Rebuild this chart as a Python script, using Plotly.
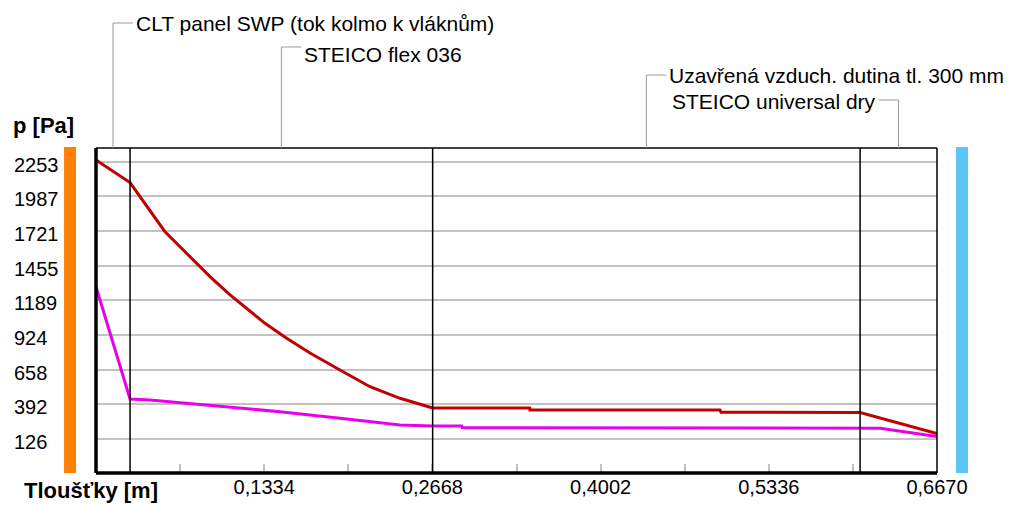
import plotly.graph_objects as go

# red line (upper pressure curve)
red_x = [0.0, 0.027, 0.0547, 0.0904, 0.1063, 0.134, 0.1512, 0.1697, 0.1935,
         0.2173, 0.2411, 0.267, 0.344, 0.3442, 0.4949, 0.4957, 0.606, 0.667]
red_p = [2266, 2093, 1716, 1371, 1232, 1013, 898, 786, 655,
         527, 438, 364, 364, 348, 348, 331, 329, 168]

# magenta line (lower pressure curve)
mag_x = [0.0, 0.027, 0.0428, 0.146, 0.1935, 0.2411, 0.267, 0.29, 0.2905,
         0.606, 0.622, 0.667]
mag_p = [1294, 433, 425, 335, 285, 233, 226, 226, 213,
         208, 208, 144]

# layer boundaries and names
layer_edges = [0.0, 0.027, 0.267, 0.606, 0.667]
layer_names = [
    "CLT panel SWP (tok kolmo k vláknům)",
    "STEICO flex 036",
    "Uzavřená vzduch. dutina tl. 300 mm",
    "STEICO universal dry",
]

y_ticks = [126, 392, 658, 924, 1189, 1455, 1721, 1987, 2253]
x_ticks = [0.0667, 0.1334, 0.2001, 0.2668, 0.3335, 0.4002, 0.4669, 0.5336, 0.6003, 0.667]
x_tick_text = ["", "0,1334", "", "0,2668", "", "0,4002", "", "0,5336", "", "0,6670"]

FONT = "Liberation Sans, Arial, sans-serif"
GRID = "#c2c2c2"
LEADER = "#9a9a9a"

fig = go.Figure()
fig.add_trace(go.Scatter(x=mag_x, y=mag_p, mode="lines",
                         line=dict(color="#e800e8", width=3)))
fig.add_trace(go.Scatter(x=red_x, y=red_p, mode="lines",
                         line=dict(color="#c00000", width=3)))

# internal layer boundaries
for e in layer_edges[1:-1]:
    fig.add_shape(type="line", xref="x", yref="paper", x0=e, x1=e, y0=0, y1=1,
                  line=dict(color="black", width=1.5))

# frame: heavier left/bottom
fig.add_shape(type="line", xref="paper", yref="paper", x0=0, x1=0, y0=0, y1=1,
              line=dict(color="black", width=3.5))
fig.add_shape(type="line", xref="paper", yref="paper", x0=0, x1=1, y0=0, y1=0,
              line=dict(color="black", width=3.5))
fig.add_shape(type="line", xref="paper", yref="paper", x0=0, x1=1, y0=1, y1=1,
              line=dict(color="black", width=1.5))
fig.add_shape(type="line", xref="paper", yref="paper", x0=1, x1=1, y0=0, y1=1,
              line=dict(color="black", width=1.5))

# side colour bars (interior / exterior)
fig.add_shape(type="rect", xref="paper", yref="paper", x0=-0.0380, x1=-0.0238,
              y0=0, y1=1.003, fillcolor="#ff8000", line_width=0)
fig.add_shape(type="rect", xref="paper", yref="paper", x0=1.0226, x1=1.0369,
              y0=0, y1=1.003, fillcolor="#5ec5f9", line_width=0)

# layer labels with leader lines: (label top in paper y, direction)
leaders = [(1.3846, 1), (1.3108, 1), (1.2246, 1), (1.1477, -1)]
label_dy = [0, -8, 0, -2]
for i, (name, (yl, d)) in enumerate(zip(layer_names, leaders)):
    mid = (layer_edges[i] + layer_edges[i + 1]) / 2
    fig.add_shape(type="line", xref="x", yref="paper", x0=mid, x1=mid, y0=1, y1=yl,
                  line=dict(color=LEADER, width=1))
    fig.add_shape(type="line", xref="x", yref="paper", xsizemode="pixel", xanchor=mid,
                  x0=0, x1=20 * d, y0=yl, y1=yl, line=dict(color=LEADER, width=1))
    fig.add_annotation(x=mid, y=yl, xref="x", yref="paper", text=name,
                       showarrow=False, xanchor="left" if d > 0 else "right",
                       yanchor="middle", xshift=20 * d + 1 * d, yshift=label_dy[i],
                       font=dict(family=FONT, size=21, color="black"))

# y tick labels, left aligned
for v in y_ticks:
    fig.add_annotation(x=-0.0995, y=v, xref="paper", yref="y", text=str(v),
                       showarrow=False, xanchor="left", yanchor="middle", yshift=-3,
                       font=dict(family=FONT, size=20, color="black"))

fig.add_annotation(x=-0.1005, y=1.068, xref="paper", yref="paper", text="<b>p [Pa]</b>",
                   showarrow=False, xanchor="left", yanchor="middle",
                   font=dict(family=FONT, size=22, color="black"))
fig.add_annotation(x=-0.0880, y=-0.055, xref="paper", yref="paper",
                   text="<b>Tloušťky [m]</b>", showarrow=False, xanchor="left",
                   yanchor="middle", font=dict(family=FONT, size=22, color="black"))

fig.update_xaxes(range=[0, 0.667], tickmode="array", tickvals=x_ticks,
                 ticktext=x_tick_text, ticks="inside", ticklen=9, tickwidth=1.5,
                 tickcolor=GRID, showgrid=False, zeroline=False, showline=False,
                 tickfont=dict(family=FONT, size=20, color="black"))
fig.update_yaxes(range=[-135, 2358], tickmode="array", tickvals=y_ticks,
                 showticklabels=False, showgrid=True, gridcolor=GRID, gridwidth=1.5,
                 zeroline=False, showline=False)

# the page body adds an 8px offset, so margins are shifted to compensate
fig.update_layout(
    width=1012, height=506,
    margin=dict(l=88, r=83, t=140, b=41),
    plot_bgcolor="white", paper_bgcolor="white",
    showlegend=False,
)

fig.write_html("out.html")
